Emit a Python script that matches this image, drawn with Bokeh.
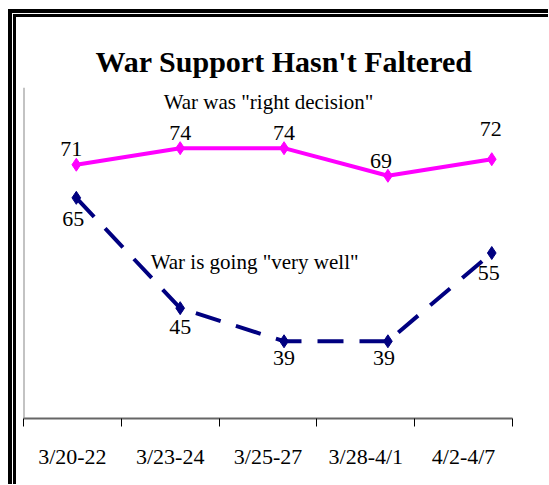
from bokeh.plotting import figure
from bokeh.models import (ColumnDataSource, Range1d, FixedTicker, Span, Label)
from bokeh.embed import file_html
from bokeh.resources import INLINE

# ---- data ----
categories = ["3/20-22", "3/23-24", "3/25-27", "3/28-4/1", "4/2-4/7"]
right_decision = [71, 74, 74, 69, 72]
going_very_well = [65, 45, 39, 39, 55]

title_text = "War Support Hasn't Faltered"
series_names = ['War was "right decision"', 'War is going "very well"']

# ---- layout constants ----
n = len(categories)
pt_x = [0.54 + 1.062 * i for i in range(n)]          # point positions within slots
pink_dx = [-5, 0, 0, -7, -1]
pink_dy = [-16, -15, -15, -15, -30]
navy_dx = [-3, 0, 0, -4, -3]
navy_dy = [21, 19, 17, 17, 20]

FONT = "Liberation Serif"
PINK = "#FF00FF"
NAVY = "#000080"

# double frame border on left/top drawn with inset shadows behind a transparent canvas
frame_css = ("inset 8px 9px 0 0 white, inset 12px 13px 0 0 black, "
             "inset 13px 14px 0 0 white, inset 16px 17px 0 0 black")

p = figure(width=548, height=484, output_backend="svg", toolbar_location=None,
           x_range=Range1d(0, n), y_range=Range1d(25, 85),
           y_axis_location=None, min_border_left=23, min_border_right=36,
           min_border_top=87, min_border_bottom=66,
           styles={"box-shadow": frame_css, "background-color": "white"})
p.outline_line_color = None
p.xgrid.visible = False
p.ygrid.visible = False
p.background_fill_color = None
p.border_fill_color = None

# title
p.title.text = title_text
p.title.text_font = FONT
p.title.text_font_size = "30px"
p.title.text_font_style = "bold"
p.title.text_color = "black"
p.title.align = "left"
p.title.offset = 72
p.title.standoff = 19

# x axis: labels at slot centres, tick marks at slot boundaries
ax = p.xaxis[0]
ax.ticker = FixedTicker(ticks=[i + 0.5 for i in range(n)],
                        minor_ticks=[float(i) for i in range(n + 1)])
ax.major_label_overrides = {i + 0.5: c for i, c in enumerate(categories)}
ax.major_tick_in = 0
ax.major_tick_out = 0
ax.minor_tick_in = 0
ax.minor_tick_out = 8
ax.minor_tick_line_color = "black"
ax.minor_tick_line_width = 1
ax.axis_line_color = "#666666"
ax.axis_line_width = 2
ax.major_label_text_font = FONT
ax.major_label_text_font_size = "22px"
ax.major_label_text_color = "black"
ax.major_label_standoff = 17

# y axis line (gray)
p.add_layout(Span(location=0, dimension="height", line_color="#888888", line_width=2))

src = ColumnDataSource(dict(x=pt_x, rd=right_decision, vw=going_very_well,
                            rd_t=[str(v) for v in right_decision],
                            vw_t=[str(v) for v in going_very_well],
                            pdx=pink_dx, pdy=pink_dy, ndx=navy_dx, ndy=navy_dy))

p.line("x", "rd", source=src, line_color=PINK, line_width=4)
p.scatter("x", "rd", source=src, marker="diamond", size=13, fill_color=PINK, line_color=PINK)

p.line("x", "vw", source=src, line_color=NAVY, line_width=4, line_dash="26 16")
p.scatter("x", "vw", source=src, marker="diamond", size=13, fill_color=NAVY, line_color=NAVY)

p.text("x", "rd", text="rd_t", source=src, x_offset="pdx", y_offset="pdy",
       text_align="center", text_baseline="middle", text_font_size="22px",
       text_color="black", text_font={"value": FONT})
p.text("x", "vw", text="vw_t", source=src, x_offset="ndx", y_offset="ndy",
       text_align="center", text_baseline="middle", text_font_size="22px",
       text_color="black", text_font={"value": FONT})

p.add_layout(Label(x=2.505, y=82.45, text=series_names[0], text_align="center",
                   text_baseline="middle", text_font=FONT, text_font_size="21px",
                   text_color="black"))
p.add_layout(Label(x=1.30, y=53.4, text=series_names[1], text_align="left",
                   text_baseline="middle", text_font=FONT, text_font_size="21px",
                   text_color="black"))

open("out.html", "w").write(file_html(p, INLINE))
